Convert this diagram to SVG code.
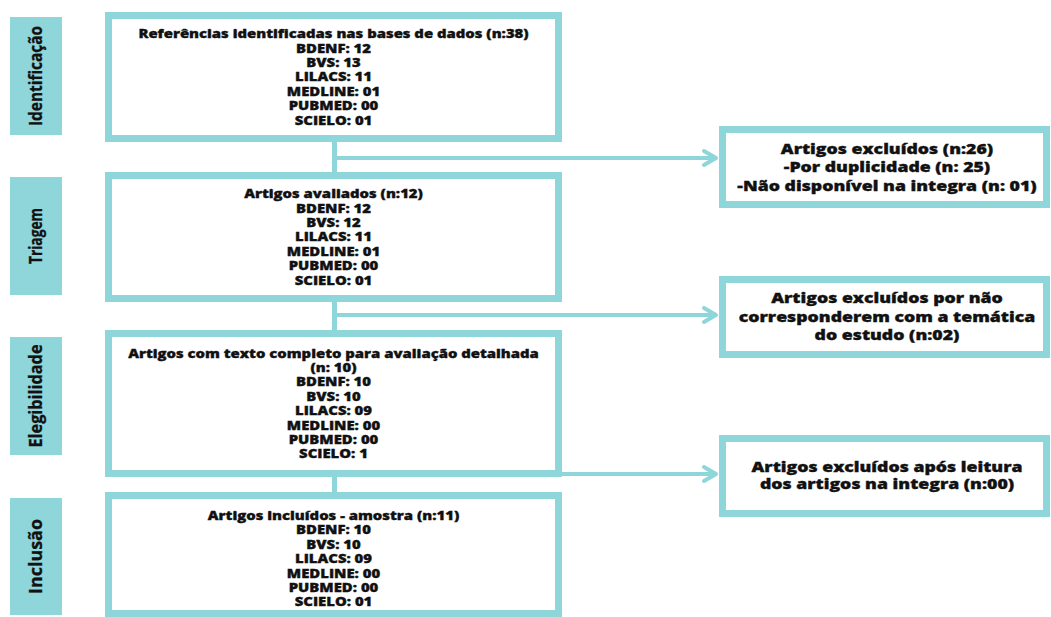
<svg xmlns="http://www.w3.org/2000/svg" width="1051" height="617" viewBox="0 0 1051 617">
<defs>
<style>
.box{fill:#fff;stroke:#8fd6db;stroke-width:7}
.lab{fill:#8fd6db}
.lt{font-family:"Open Sans","DejaVu Sans",sans-serif;font-weight:700;font-size:17px;fill:#111;stroke:#111;stroke-width:0.3;text-anchor:middle}
.t{font-family:"Open Sans","DejaVu Sans",sans-serif;font-weight:800;font-size:12.5px;fill:#111;stroke:#111;stroke-width:0.35;text-anchor:middle}
.e{font-family:"Open Sans","DejaVu Sans",sans-serif;font-weight:800;font-size:14.5px;fill:#111;stroke:#111;stroke-width:0.35;text-anchor:middle}
.ln{stroke:#8fd6db;fill:none}
.v{stroke-width:5}
.h{stroke-width:4}
.ah{stroke:#8fd6db;stroke-width:4;fill:none;stroke-linecap:round;stroke-linejoin:round}
</style>
</defs>
<rect width="1051" height="617" fill="#fff"/>
<g id="connectors">
<line class="ln v" x1="334.5" y1="140" x2="334.5" y2="174"/>
<line class="ln v" x1="334.5" y1="300" x2="334.5" y2="332"/>
<line class="ln v" x1="334.5" y1="475" x2="334.5" y2="494"/>
<line class="ln h" x1="332" y1="158" x2="715" y2="158"/>
<polyline class="ah" points="704,151 716,158 704,165"/>
<line class="ln h" x1="332" y1="315" x2="715" y2="315"/>
<polyline class="ah" points="704,308 716,315 704,322"/>
<line class="ln h" x1="334" y1="474" x2="715" y2="474"/>
<polyline class="ah" points="704,467 716,474 704,481"/>
</g>
<g id="label-identificacao">
<rect class="lab" x="10" y="17" width="52" height="118"/>
<text class="lt" transform="translate(36,76) rotate(-90)" y="6" textLength="100" lengthAdjust="spacingAndGlyphs">Identificação</text>
</g>
<g id="label-triagem">
<rect class="lab" x="10" y="177" width="52" height="118"/>
<text class="lt" transform="translate(36,236) rotate(-90)" y="6" textLength="56" lengthAdjust="spacingAndGlyphs">Triagem</text>
</g>
<g id="label-elegibilidade">
<rect class="lab" x="10" y="337" width="52" height="118"/>
<text class="lt" transform="translate(36,396) rotate(-90)" y="6" textLength="103" lengthAdjust="spacingAndGlyphs">Elegibilidade</text>
</g>
<g id="label-inclusao">
<rect class="lab" x="10" y="498" width="52" height="117"/>
<text class="lt" transform="translate(36,556.5) rotate(-90)" y="6" textLength="75" lengthAdjust="spacingAndGlyphs">Inclusão</text>
</g>
<g id="box-identificacao">
<rect class="box" x="108.5" y="15.5" width="450" height="123"/>
<g transform="translate(333.5,0) scale(1.19,1)">
<text class="t" x="0" y="38.3">Referências identificadas nas bases de dados (n:38)</text>
<text class="t" x="0" y="52.7">BDENF: 12</text>
<text class="t" x="0" y="67.1">BVS: 13</text>
<text class="t" x="0" y="81.5">LILACS: 11</text>
<text class="t" x="0" y="95.9">MEDLINE: 01</text>
<text class="t" x="0" y="110.3">PUBMED: 00</text>
<text class="t" x="0" y="124.7">SCIELO: 01</text>
</g>
</g>
<g id="box-triagem">
<rect class="box" x="108.5" y="175.5" width="450" height="123"/>
<g transform="translate(333.5,0) scale(1.19,1)">
<text class="t" x="0" y="198.3">Artigos avaliados (n:12)</text>
<text class="t" x="0" y="212.7">BDENF: 12</text>
<text class="t" x="0" y="227.1">BVS: 12</text>
<text class="t" x="0" y="241.5">LILACS: 11</text>
<text class="t" x="0" y="255.9">MEDLINE: 01</text>
<text class="t" x="0" y="270.3">PUBMED: 00</text>
<text class="t" x="0" y="284.7">SCIELO: 01</text>
</g>
</g>
<g id="box-elegibilidade">
<rect class="box" x="108.5" y="333.5" width="450" height="140"/>
<g transform="translate(333.5,0) scale(1.19,1)">
<text class="t" x="0" y="357.6">Artigos com texto completo para avaliação detalhada</text>
<text class="t" x="0" y="372">(n: 10)</text>
<text class="t" x="0" y="386.4">BDENF: 10</text>
<text class="t" x="0" y="400.8">BVS: 10</text>
<text class="t" x="0" y="415.2">LILACS: 09</text>
<text class="t" x="0" y="429.6">MEDLINE: 00</text>
<text class="t" x="0" y="444">PUBMED: 00</text>
<text class="t" x="0" y="458.4">SCIELO: 1</text>
</g>
</g>
<g id="box-inclusao">
<rect class="box" x="108.5" y="495.5" width="450" height="118"/>
<g transform="translate(333.5,0) scale(1.19,1)">
<text class="t" x="0" y="520">Artigos incluídos - amostra (n:11)</text>
<text class="t" x="0" y="534.4">BDENF: 10</text>
<text class="t" x="0" y="548.8">BVS: 10</text>
<text class="t" x="0" y="563.2">LILACS: 09</text>
<text class="t" x="0" y="577.6">MEDLINE: 00</text>
<text class="t" x="0" y="592">PUBMED: 00</text>
<text class="t" x="0" y="606.4">SCIELO: 01</text>
</g>
</g>
<g id="excl-1">
<rect class="box" x="722.5" y="129.5" width="324" height="75"/>
<g transform="translate(887,0) scale(1.22,1)">
<text class="e" x="0" y="153.7">Artigos excluídos (n:26)</text>
<text class="e" x="0" y="172.2">-Por duplicidade (n: 25)</text>
<text class="e" x="0" y="190.7">-Não disponível na integra (n: 01)</text>
</g>
</g>
<g id="excl-2">
<rect class="box" x="722.5" y="279.5" width="324" height="75"/>
<g transform="translate(887,0) scale(1.22,1)">
<text class="e" x="0" y="303.5">Artigos excluídos por não</text>
<text class="e" x="0" y="322">corresponderem com a temática</text>
<text class="e" x="0" y="340.5">do estudo (n:02)</text>
</g>
</g>
<g id="excl-3">
<rect class="box" x="722.5" y="438.5" width="324" height="75"/>
<g transform="translate(887,0) scale(1.22,1)">
<text class="e" x="0" y="472">Artigos excluídos após leitura</text>
<text class="e" x="0" y="489">dos artigos na integra (n:00)</text>
</g>
</g>
</svg>
